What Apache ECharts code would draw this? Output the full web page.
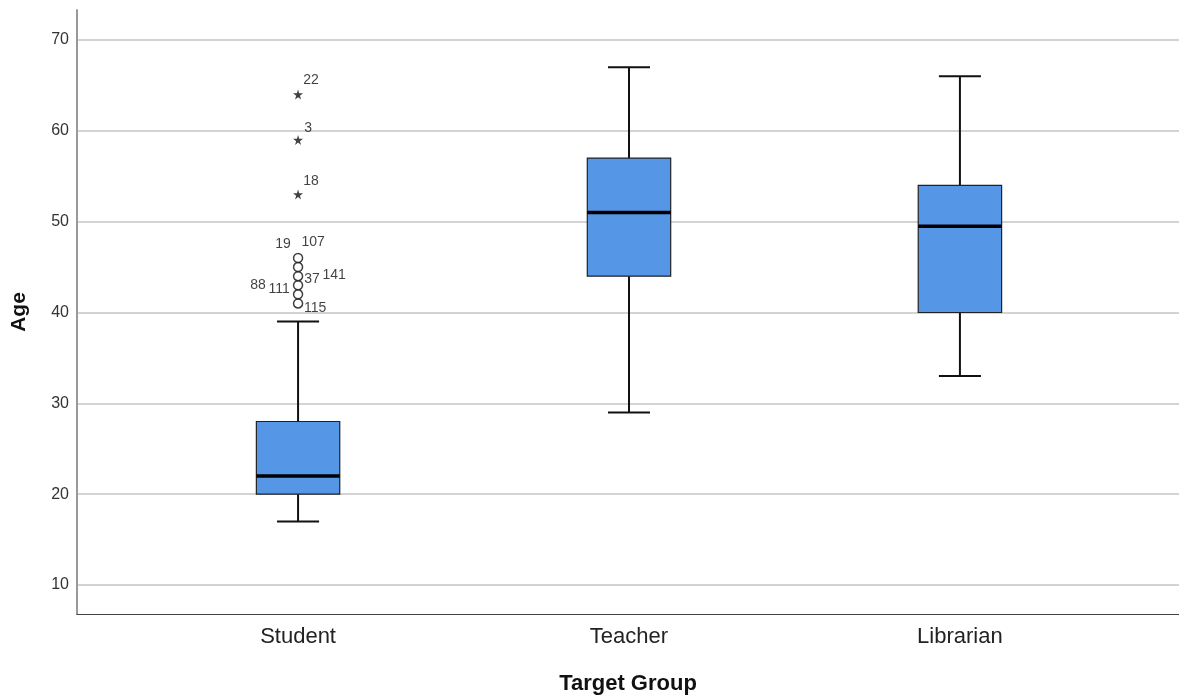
<!DOCTYPE html>
<html><head><meta charset="utf-8">
<script src="https://cdn.jsdelivr.net/npm/echarts@6/dist/echarts.min.js"></script>
<style>html,body{margin:0;padding:0;background:#fff}#c{width:1179px;height:700px}</style>
</head><body><div id="c"></div>
<script>
const categories = ['Student', 'Teacher', 'Librarian'];
// [lowerWhisker, Q1, median, Q3, upperWhisker]
const boxStudent = [17, 20, 22, 28, 39];
const boxTeacher = [29, 44, 51, 57, 67];
const boxLibrarian = [33, 40, 49.5, 54, 66];
const studentOutliers = [41, 42, 43, 44, 45, 46];
const studentExtremes = [64, 59, 53];
const extremeIds = ['22', '3', '18'];
const outlierIds = ['19', '107', '88', '111', '37', '141', '115'];
const outlierIdValues = [46, 46, 43, 43, 44, 44, 41];
const yTicks = [10, 20, 30, 40, 50, 60, 70];

const FONT = '"Liberation Sans", Arial, sans-serif';
const boxes = [boxStudent, boxTeacher, boxLibrarian];
const labelOffsets = {
  '22': [13, -14], '3': [10, -12], '18': [13, -13],
  '19': [-15, -14], '107': [15, -16], '88': [-40, 0], '111': [-19, 4],
  '37': [14, 3], '141': [36, -1], '115': [17, 5]
};
const XMIN = -0.668, XMAX = 2.662;
const labelStyle = id => ({show: true, formatter: id, position: 'inside', offset: labelOffsets[id],
  fontSize: 14, color: '#111', fontFamily: FONT, textBorderWidth: 0});

const chart = echarts.init(document.getElementById('c'), null, {renderer: 'canvas'});
const option = {
  animation: false,
  backgroundColor: '#fff',
  grid: [
    {left: 77, right: 0, top: 40, bottom: 115},
    {left: 77, right: 0, top: 10, bottom: 86}
  ],
  xAxis: [
    {gridIndex: 0, type: 'value', min: XMIN, max: XMAX,
     axisLine: {show: false}, axisTick: {show: false}, splitLine: {show: false},
     axisLabel: {customValues: [0, 1, 2], formatter: v => categories[Math.round(v)] || '',
       margin: 41, fontSize: 22, color: '#222', fontFamily: FONT}},
    {gridIndex: 1, type: 'value', min: XMIN, max: XMAX,
     axisLine: {show: true, onZero: false, lineStyle: {color: '#444', width: 1.2}},
     axisTick: {show: false}, axisLabel: {show: false}, splitLine: {show: false},
     name: 'Target Group', nameLocation: 'middle', nameGap: 59,
     nameTextStyle: {fontSize: 22, fontWeight: 'bold', color: '#111', fontFamily: FONT}}
  ],
  yAxis: [
    {gridIndex: 0, type: 'value', min: 10, max: 70, interval: 10,
     axisLine: {show: false}, axisTick: {show: false},
     splitLine: {show: true, lineStyle: {color: '#c4c4c4', width: 1.5}},
     axisLabel: {customValues: yTicks, margin: 8, fontSize: 16, color: '#333', fontFamily: FONT}},
    {gridIndex: 1, type: 'value', min: 0, max: 1,
     axisLine: {show: true, onZero: false, lineStyle: {color: '#999', width: 2}},
     axisTick: {show: false}, axisLabel: {show: false}, splitLine: {show: false},
     name: 'Age', nameLocation: 'middle', nameGap: 47,
     nameTextStyle: {fontSize: 21, fontWeight: 'bold', color: '#111', fontFamily: FONT}}
  ],
  series: [
    {
      type: 'custom', xAxisIndex: 0, yAxisIndex: 0,
      data: boxes.map((b, i) => [i].concat(b)),
      renderItem: function (params, api) {
        const x = api.value(0);
        const lo = api.coord([x, api.value(1)]);
        const q1 = api.coord([x, api.value(2)]);
        const md = api.coord([x, api.value(3)]);
        const q3 = api.coord([x, api.value(4)]);
        const hi = api.coord([x, api.value(5)]);
        const bw = api.size([0.252, 0])[0];
        const cw = api.size([0.127, 0])[0];
        const cx = lo[0];
        const ls = {stroke: '#111', lineWidth: 2};
        return {
          type: 'group',
          children: [
            {type: 'line', shape: {x1: cx, y1: lo[1], x2: cx, y2: q1[1]}, style: ls},
            {type: 'line', shape: {x1: cx, y1: q3[1], x2: cx, y2: hi[1]}, style: ls},
            {type: 'line', shape: {x1: cx - cw / 2, y1: lo[1], x2: cx + cw / 2, y2: lo[1]}, style: ls},
            {type: 'line', shape: {x1: cx - cw / 2, y1: hi[1], x2: cx + cw / 2, y2: hi[1]}, style: ls},
            {type: 'rect', shape: {x: cx - bw / 2, y: q3[1], width: bw, height: q1[1] - q3[1]},
             style: {fill: '#5596e6', stroke: '#222', lineWidth: 1.2}},
            {type: 'line', shape: {x1: cx - bw / 2, y1: md[1], x2: cx + bw / 2, y2: md[1]},
             style: {stroke: '#000', lineWidth: 3.5}}
          ]
        };
      }
    },
    {
      type: 'scatter', xAxisIndex: 0, yAxisIndex: 0,
      symbol: 'circle', symbolSize: 9,
      itemStyle: {color: '#fff', borderColor: '#111', borderWidth: 1.5},
      data: studentOutliers.map(v => [0, v])
    },
    {
      type: 'scatter', xAxisIndex: 0, yAxisIndex: 0,
      symbol: 'path://M50,0 L61,35 L98,35 L68,57 L79,91 L50,70 L21,91 L32,57 L2,35 L39,35 Z',
      symbolSize: 10,
      itemStyle: {color: '#111'},
      data: studentExtremes.map(v => [0, v])
    },
    {
      type: 'scatter', xAxisIndex: 0, yAxisIndex: 0,
      symbol: 'circle', symbolSize: 1, silent: true, z: 5,
      itemStyle: {color: 'rgba(0,0,0,0)'},
      data: extremeIds.map((id, i) => ({value: [0, studentExtremes[i]], label: labelStyle(id)}))
        .concat(outlierIds.map((id, i) => ({value: [0, outlierIdValues[i]], label: labelStyle(id)})))
    }
  ]
};
chart.setOption(option);
</script></body></html>
